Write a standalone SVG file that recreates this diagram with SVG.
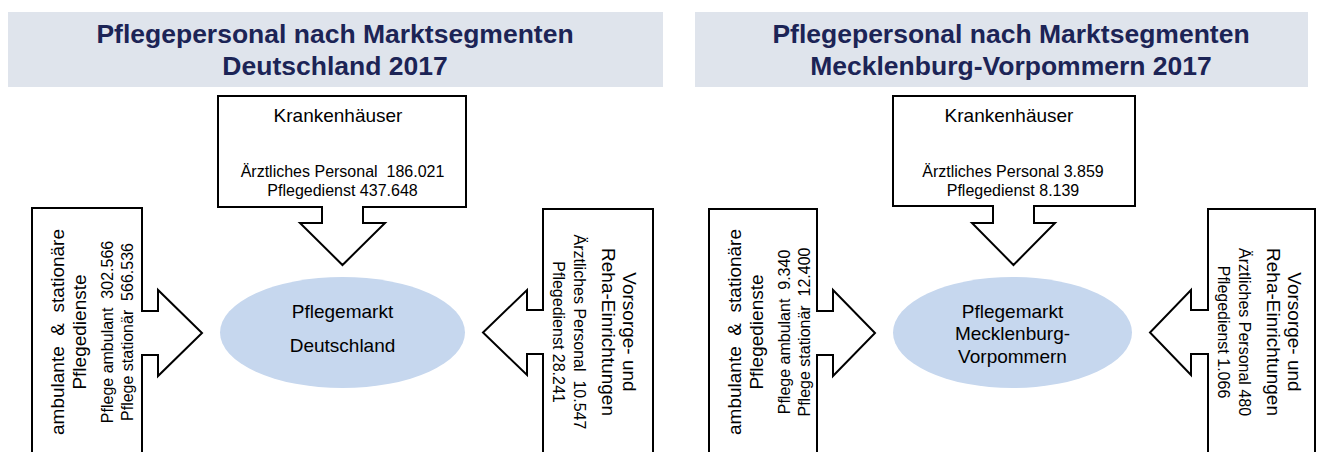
<svg xmlns="http://www.w3.org/2000/svg" width="1318" height="452" viewBox="0 0 1318 452">
<style>
text{white-space:pre}
.band{fill:#dfe4ec}
.title{font-family:"Liberation Sans",Arial,sans-serif;font-weight:bold;font-size:26.5px;fill:#1c2456;text-anchor:middle}
.shape{fill:#fff;stroke:#000;stroke-width:2;stroke-linejoin:miter}
.ell{fill:#c6d7ee}
.h{font-family:"Liberation Sans",Arial,sans-serif;font-size:19px;fill:#000;text-anchor:middle}
.d{font-family:"Liberation Sans",Arial,sans-serif;font-size:16px;fill:#000;text-anchor:middle}
</style>
<rect width="1318" height="452" fill="#fff"/>
<!-- Left panel -->
<g id="header-de">
<rect class="band" x="8" y="12" width="655" height="75"/>
<text class="title" x="335" y="43">Pflegepersonal nach Marktsegmenten</text>
<text class="title" x="335" y="75">Deutschland 2017</text>
</g>
<g id="markt-de">
<ellipse class="ell" cx="342.5" cy="332.5" rx="122.5" ry="55.5"/>
<text class="h" x="342.5" y="318">Pflegemarkt</text>
<text class="h" x="342.5" y="352">Deutschland</text>
</g>
<g id="connectors">
</g>
<g id="kh-de">
<path class="shape" d="M218,96 H466 V207 H363 V223 H385 L342.5,265 L300,223 H322 V207 H218 Z"/>
<text class="h" x="338" y="122">Krankenhäuser</text>
<text class="d" x="342.5" y="177" xml:space="preserve">Ärztliches Personal  186.021</text>
<text class="d" x="342.5" y="196">Pflegedienst 437.648</text>
</g>
<g id="amb-de">
<path class="shape" d="M32,460 V208 H142 V311 H158 V290 L202,333 L158,376 V355 H142 V460"/>
<g transform="translate(0,332) rotate(-90)">
<text class="h" x="0" y="64" xml:space="preserve">ambulante  &amp;  stationäre</text>
<text class="h" x="0" y="86">Pflegedienste</text>
<text class="d" x="0" y="113" xml:space="preserve">Pflege ambulant  302.566</text>
<text class="d" x="0" y="133" xml:space="preserve">Pflege stationär  566.536</text>
</g>
</g>
<g id="reha-de">
<path class="shape" d="M653,460 V209 H543 V310 H527 V290 L483,332.5 L527,375 V354 H543 V460"/>
<g transform="translate(0,332) rotate(90)">
<text class="h" x="0" y="-623">Vorsorge- und</text>
<text class="h" x="0" y="-602">Reha-Einrichtungen</text>
<text class="d" x="0" y="-574" xml:space="preserve">Ärztliches Personal  10.547</text>
<text class="d" x="0" y="-553">Pflegedienst 28.241</text>
</g>
</g>
<!-- Right panel -->
<g id="header-mv">
<rect class="band" x="695" y="12" width="613" height="75"/>
<text class="title" x="1011" y="43">Pflegepersonal nach Marktsegmenten</text>
<text class="title" x="1011" y="75">Mecklenburg-Vorpommern 2017</text>
</g>
<g id="markt-mv">
<ellipse class="ell" cx="1012.5" cy="332.5" rx="119.5" ry="55.5"/>
<text class="h" x="1012.5" y="318">Pflegemarkt</text>
<text class="h" x="1012.5" y="340">Mecklenburg-</text>
<text class="h" x="1012.5" y="363">Vorpommern</text>
</g>
<g id="kh-mv">
<path class="shape" d="M893,96 H1135 V206 H1034 V223 H1055 L1013.5,265 L972,223 H993 V206 H893 Z"/>
<text class="h" x="1009" y="122">Krankenhäuser</text>
<text class="d" x="1013" y="177">Ärztliches Personal 3.859</text>
<text class="d" x="1013" y="196">Pflegedienst 8.139</text>
</g>
<g id="amb-mv">
<path class="shape" d="M709,460 V209 H817 V311 H833 V290 L875,333 L833,376 V355 H817 V460"/>
<g transform="translate(0,332) rotate(-90)">
<text class="h" x="0" y="741" xml:space="preserve">ambulante  &amp;  stationäre</text>
<text class="h" x="0" y="763">Pflegedienste</text>
<text class="d" x="0" y="790" xml:space="preserve">Pflege ambulant  9.340</text>
<text class="d" x="0" y="810" xml:space="preserve">Pflege stationär  12.400</text>
</g>
</g>
<g id="reha-mv">
<path class="shape" d="M1315,460 V209 H1208 V310 H1191 V290 L1150,332.5 L1191,375 V354 H1208 V460"/>
<g transform="translate(0,332) rotate(90)">
<text class="h" x="0" y="-1288">Vorsorge- und</text>
<text class="h" x="0" y="-1267">Reha-Einrichtungen</text>
<text class="d" x="0" y="-1239">Ärztliches Personal 480</text>
<text class="d" x="0" y="-1218">Pflegedienst 1.066</text>
</g>
</g>
</svg>
